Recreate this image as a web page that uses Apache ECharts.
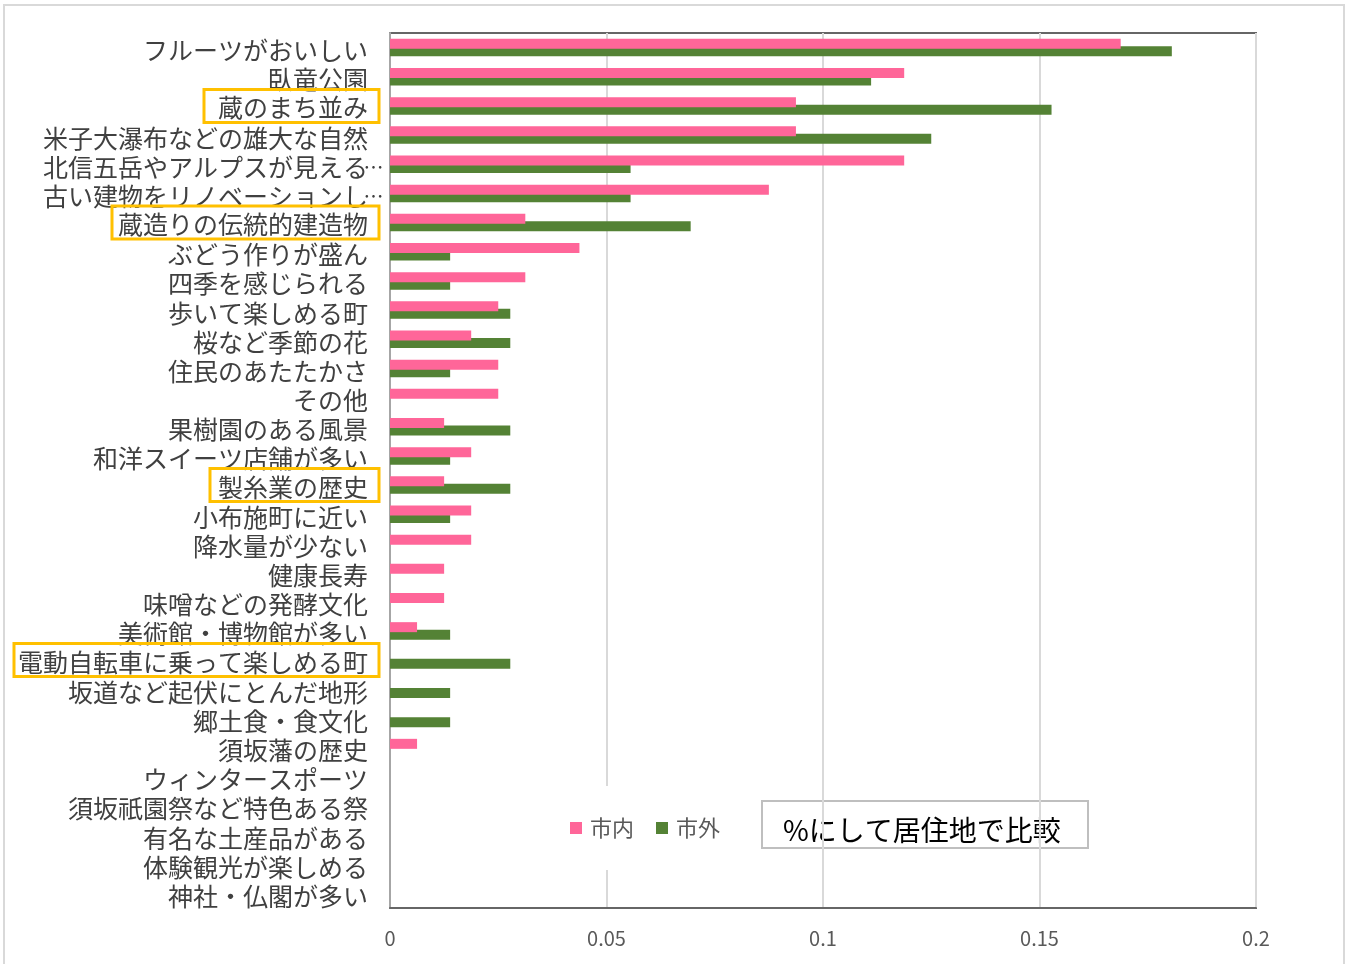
<!DOCTYPE html>
<html>
<head>
<meta charset="utf-8">
<script src="https://cdn.jsdelivr.net/npm/echarts@6/dist/echarts.min.js"></script>
<style>
  html, body { margin: 0; padding: 0; background: #fff; }
  #chart { width: 1346px; height: 964px; }
</style>
</head>
<body>
<div id="chart"></div>
<script>
// 項目（上から順）
const categories = [
  'フルーツがおいしい', '臥竜公園', '蔵のまち並み', '米子大瀑布などの雄大な自然',
  '北信五岳やアルプスが見える…', '古い建物をリノベーションし…', '蔵造りの伝統的建造物',
  'ぶどう作りが盛ん', '四季を感じられる', '歩いて楽しめる町', '桜など季節の花',
  '住民のあたたかさ', 'その他', '果樹園のある風景', '和洋スイーツ店舗が多い',
  '製糸業の歴史', '小布施町に近い', '降水量が少ない', '健康長寿', '味噌などの発酵文化',
  '美術館・博物館が多い', '電動自転車に乗って楽しめる町', '坂道など起伏にとんだ地形',
  '郷土食・食文化', '須坂藩の歴史', 'ウィンタースポーツ', '須坂祇園祭など特色ある祭',
  '有名な土産品がある', '体験観光が楽しめる', '神社・仏閣が多い'
]
// 市内
const shinai = [
  0.16875, 0.11875, 0.09375, 0.09375, 0.11875, 0.0875, 0.03125, 0.04375, 0.03125, 0.025,
  0.01875, 0.025, 0.025, 0.0125, 0.01875, 0.0125, 0.01875, 0.01875, 0.0125, 0.0125,
  0.00625, 0, 0, 0, 0.00625, 0, 0, 0, 0, 0
]
// 市外
const shigai = [
  0.18056, 0.11111, 0.15278, 0.125, 0.05556, 0.05556, 0.06944, 0.01389, 0.01389, 0.02778,
  0.02778, 0.01389, 0, 0.02778, 0.01389, 0.02778, 0.01389, 0, 0, 0,
  0.01389, 0.02778, 0.01389, 0.01389, 0, 0, 0, 0, 0, 0
]
const xTicks = [0, 0.05, 0.1, 0.15, 0.2]
// 枠で囲む項目
const boxed = {
  '蔵のまち並み': 'h1',
  '蔵造りの伝統的建造物': 'h2',
  '製糸業の歴史': 'h3',
  '電動自転車に乗って楽しめる町': 'h4'
}

const FONT = '"Noto Sans CJK JP", "Noto Sans", sans-serif'
const boxStyle = (left) => ({
  fontSize: 25, fontFamily: FONT, color: '#404040', lineHeight: 28,
  borderColor: '#FFC000', borderWidth: 3, padding: [6, 11, 2, left]
})

// ラベル書式（…ははみ出す）
const fmtLabel = (v) => {
  if (boxed[v]) return '{' + boxed[v] + '|' + v + '}'
  if (v.endsWith('…')) return '{t|' + v.slice(0, -1) + '}{d|…}'
  return '{n|' + v + '}'
}

const myChart = echarts.init(document.getElementById('chart'))
const option = {
  animation: false,
  backgroundColor: '#fff',
  textStyle: { fontFamily: FONT },
  grid: { left: 390, right: 90, top: 33, bottom: 56, show: true, borderColor: '#666', borderWidth: 2 },
  legend: {
    data: ['市内', '市外'],
    left: 560, top: 786,
    padding: [31, 12, 31, 10],
    backgroundColor: '#fff',
    itemWidth: 12, itemHeight: 12, itemGap: 22,
    icon: 'rect',
    textStyle: { color: '#595959', fontSize: 22, fontFamily: FONT, padding: [0, 0, 0, 3] }
  },
  xAxis: {
    type: 'value',
    min: xTicks[0], max: xTicks[xTicks.length - 1], interval: 0.05,
    axisLine: { show: true, lineStyle: { color: '#666', width: 2 } },
    axisTick: { show: false },
    splitLine: { show: true, lineStyle: { color: '#d9d9d9', width: 2 } },
    axisLabel: { color: '#595959', fontSize: 20, fontFamily: FONT, margin: 20 }
  },
  yAxis: {
    type: 'category',
    data: categories,
    inverse: true,
    axisLine: { show: true, lineStyle: { color: '#a6a6a6', width: 2 } },
    axisTick: { show: false },
    axisLabel: {
      interval: 0,
      margin: 11,
      formatter: fmtLabel,
      rich: {
        n: { fontSize: 25, fontFamily: FONT, color: '#404040', lineHeight: 28, padding: [6, 11, 0, 0] },
        t: { fontSize: 25, fontFamily: FONT, color: '#404040', lineHeight: 28, padding: [6, 0, 0, 0] },
        d: { fontSize: 20, fontFamily: FONT, color: '#404040', lineHeight: 28, width: 11, align: 'left', padding: [6, 0, 0, 0] },
        h1: boxStyle(14),
        h2: boxStyle(6),
        h3: boxStyle(8),
        h4: boxStyle(4)
      }
    }
  },
  series: [
    {
      name: '市内', type: 'bar', data: shinai, z: 3,
      barWidth: 10, barGap: '-25%',
      itemStyle: { color: '#FF6699' }
    },
    {
      name: '市外', type: 'bar', data: shigai, z: 2,
      barWidth: 10, barGap: '-25%',
      itemStyle: { color: '#548235' }
    }
  ],
  graphic: [
    {
      type: 'rect', z: -10, silent: true,
      shape: { x: 4, y: 5, width: 1340, height: 970 },
      style: { fill: 'none', stroke: '#d9d9d9', lineWidth: 2 }
    },
    {
      type: 'group', z: 100,
      children: [
        {
          type: 'rect',
          shape: { x: 762, y: 801, width: 326, height: 47 },
          style: { fill: '#fff', stroke: '#bfbfbf', lineWidth: 2 }
        },
        {
          type: 'text',
          x: 783, y: 830,
          style: { text: '%にして居住地で比較', fontSize: 28, fontFamily: FONT, fill: '#000', verticalAlign: 'middle' }
        }
      ]
    }
  ]
}
myChart.setOption(option)
</script>
</body>
</html>
